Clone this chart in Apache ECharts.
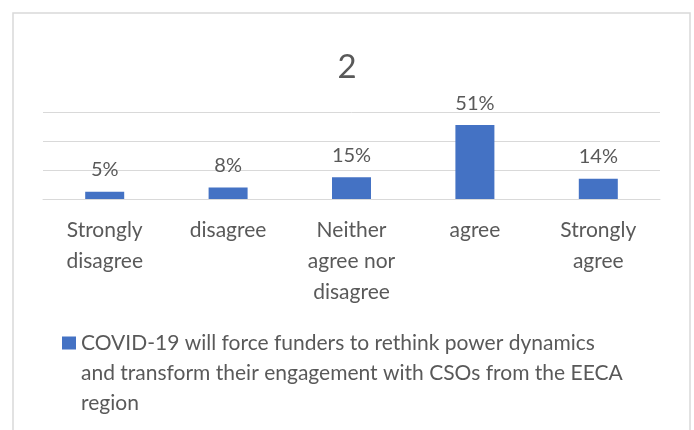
<!DOCTYPE html>
<html>
<head>
<meta charset="utf-8">
<script src="https://cdn.jsdelivr.net/npm/echarts@6/dist/echarts.min.js"></script>
<style>html,body{margin:0;padding:0;background:#fff}#c{width:694px;height:430px}</style>
</head>
<body>
<div id="c"></div>
<script>
const categories = ['Strongly\ndisagree', 'disagree', 'Neither\nagree nor\ndisagree', 'agree', 'Strongly\nagree'];
const values = [0.05, 0.08, 0.15, 0.51, 0.14];
const seriesName = 'COVID-19 will force funders to rethink power dynamics\nand transform their engagement with CSOs from the EECA\nregion';
const titleText = '2';

const FONT = 'Lato';
const TXT = '#595959';
const chart = echarts.init(document.getElementById('c'), null, {renderer: 'canvas'});
chart.setOption({
  animation: false,
  textStyle: {fontFamily: FONT},
  title: {
    text: titleText, left: 'center', top: 46,
    textStyle: {fontFamily: FONT, fontSize: 33, fontWeight: 'normal', color: TXT}
  },
  graphic: [{
    type: 'rect', silent: true, z: -1,
    shape: {x: 13, y: 13, width: 677, height: 460},
    style: {fill: '#fff', stroke: '#d9d9d9', lineWidth: 1.5}
  }],
  grid: {left: 43, right: 34, top: 112, bottom: 231, containLabel: false},
  xAxis: {
    type: 'category', data: categories,
    axisLine: {lineStyle: {color: '#d9d9d9', width: 1}},
    axisTick: {show: false},
    axisLabel: {color: TXT, fontFamily: FONT, fontSize: 21, lineHeight: 31, margin: 16, interval: 0}
  },
  yAxis: {
    type: 'value', min: 0, max: 0.6, interval: 0.2,
    axisLabel: {show: false}, axisLine: {show: false}, axisTick: {show: false},
    splitLine: {lineStyle: {color: '#d9d9d9', width: 1}}
  },
  legend: {
    left: 62, top: 328, padding: 0,
    itemWidth: 14, itemHeight: 90,
    icon: 'path://M0,0h0.01v0.01h-0.01z M0,8.5h14v13h-14z M0,89.99h0.01v0.01h-0.01z',
    textStyle: {color: TXT, fontFamily: FONT, fontSize: 21, lineHeight: 30},
    data: [seriesName]
  },
  series: [{
    name: seriesName, type: 'bar', data: values, barWidth: 39,
    itemStyle: {color: '#4472C4'},
    label: {
      show: true, position: 'top', distance: 12, color: TXT, fontFamily: FONT, fontSize: 20,
      formatter: p => Math.round(p.value * 100) + '%'
    }
  }]
});
</script>
</body>
</html>
